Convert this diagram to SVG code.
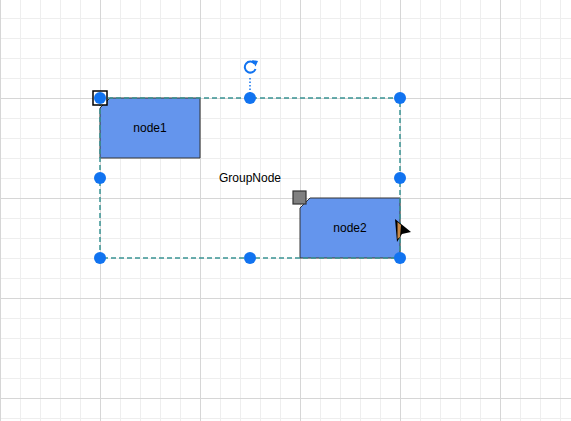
<svg xmlns="http://www.w3.org/2000/svg" width="571" height="421" viewBox="0 0 571 421">
<defs>
<pattern id="minor" x="0" y="-2" width="20" height="20" patternUnits="userSpaceOnUse">
<path d="M0.5 0 V20 M0 0.5 H20" stroke="#eeeeee" stroke-width="1" fill="none"/>
</pattern>
<pattern id="major" x="0" y="-2" width="100" height="100" patternUnits="userSpaceOnUse">
<path d="M0.5 0 V100 M0 0.5 H100" stroke="#d6d6d6" stroke-width="1" fill="none"/>
</pattern>
<style>
.node{fill:#6495ed;stroke:#333;stroke-width:1}
.lbl{font-family:"Liberation Sans",Arial,sans-serif;font-size:12px;fill:#000;text-anchor:middle}
.sel{fill:none;stroke:#3a9494;stroke-width:1.5;stroke-dasharray:5 3}
.h{fill:#1173f0}
</style>
</defs>
<rect width="571" height="421" fill="#fff"/>
<rect width="571" height="421" fill="url(#minor)"/>
<rect width="571" height="421" fill="url(#major)"/>
<g id="group">
<text class="lbl" x="250" y="182">GroupNode</text>
</g>
<g id="node1">
<path class="node" d="M110 98 H200 V158 H100 V108 Z"/>
<text class="lbl" x="150" y="132">node1</text>
</g>
<g id="node2">
<path class="node" d="M310 198 H400 V258 H300 V208 Z"/>
<text class="lbl" x="350" y="232">node2</text>
</g>
<g id="connectors"></g>
<g id="selection">
<rect class="sel" x="100" y="98" width="300" height="160"/>
<line x1="250" y1="78" x2="250" y2="98" stroke="#1173f0" stroke-width="1.5" stroke-dasharray="1.5 2"/>
<path d="M254.5 63.5 A5.5 5.5 0 1 0 255.5 69" fill="none" stroke="#1173f0" stroke-width="2"/>
<path d="M252 60 L258 61 L255.5 66.5 Z" fill="#1173f0"/>
<rect x="93" y="91" width="14" height="14" fill="#fff" stroke="#000" stroke-width="1.5"/>
<rect x="293" y="191" width="13" height="13" fill="#808080" stroke="#333" stroke-width="1.2"/>
<circle class="h" cx="100" cy="98" r="6"/>
<circle class="h" cx="250" cy="98" r="6"/>
<circle class="h" cx="400" cy="98" r="6"/>
<circle class="h" cx="100" cy="178" r="6"/>
<circle class="h" cx="400" cy="178" r="6"/>
<circle class="h" cx="100" cy="258" r="6"/>
<circle class="h" cx="250" cy="258" r="6"/>
<circle class="h" cx="400" cy="258" r="6"/>
</g>
<g id="cursor">
<path d="M395 219 L411 232 L402 234 L397 242 Z" fill="#000"/>
<path d="M397.5 222 L401 225 L400 237 L397.5 239 Z" fill="#c98a4a"/>
</g>
</svg>
